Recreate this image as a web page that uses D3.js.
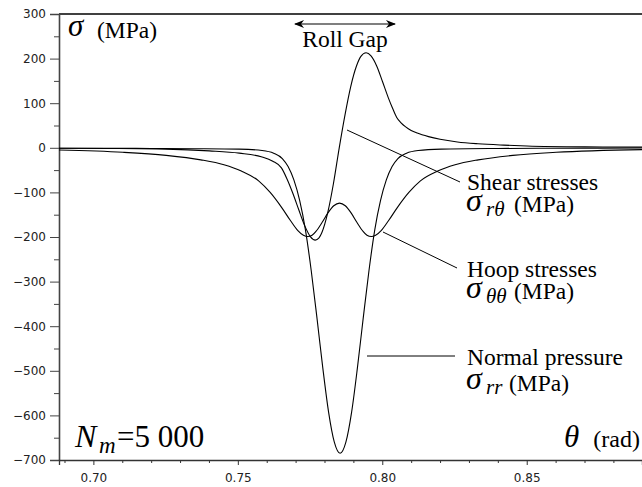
<!DOCTYPE html>
<html><head><meta charset="utf-8">
<script src="https://cdn.jsdelivr.net/npm/d3@7"></script>
<style>
html,body{margin:0;padding:0;background:#fff;}
svg{display:block;}
.tick text{font-family:"DejaVu Sans",sans-serif;font-size:12px;fill:#222;}
.serif{font-family:"Liberation Serif","Times New Roman",serif;fill:#000;}
</style></head>
<body>
<svg id="chart" width="642" height="487"></svg>
<script>
// ---- data ----
const xMajorTicks = [0.70, 0.75, 0.80, 0.85];
const xMinorTicks = [0.69,0.71,0.72,0.73,0.74,0.76,0.77,0.78,0.79,0.81,0.82,0.83,0.84,0.86,0.87,0.88];
const yMajorTicks = [300,200,100,0,-100,-200,-300,-400,-500,-600,-700];
const yMinorTicks = [250,150,50,-50,-150,-250,-350,-450,-550,-650];
const rollGap = [0.7698, 0.8044];

// Normal pressure sigma_rr (MPa)
const thetaNormal = [0.6881,0.70,0.72,0.735,0.7504,0.7584,0.7624,0.7654,0.7674,0.7694,0.7714,0.7734,0.7754,0.7774,0.7794,0.7814,0.7834,0.7854,0.7874,0.7894,0.7914,0.7934,0.7954,0.7974,0.7994,0.8014,0.8034,0.8054,0.8084,0.8124,0.8204,0.84,0.86,0.8899];
const normalPressure = [-1,-1,-1.5,-2,-3,-6,-12,-24,-42,-72,-118,-184,-275,-382,-493,-592,-660,-685,-660,-592,-493,-382,-275,-184,-118,-72,-42,-24,-12,-6,-3,-1.5,-1,-0.5];

// Hoop stresses sigma_theta_theta (MPa)
const thetaHoop = [0.6881,0.7102,0.7252,0.7372,0.7452,0.7512,0.7572,0.7612,0.7652,0.7682,0.7707,0.7727,0.7742,0.7757,0.7772,0.7792,0.7812,0.7832,0.7852,0.7872,0.7892,0.7912,0.7932,0.7947,0.7962,0.7977,0.7997,0.8022,0.8052,0.8092,0.8132,0.8192,0.8252,0.8332,0.8452,0.8602,0.8899];
const hoopStress = [-5,-10,-17,-27,-38,-52,-74,-100,-134,-163,-185,-196,-199,-196,-186,-167,-146,-130,-124,-130,-146,-167,-186,-196,-199,-196,-185,-163,-134,-100,-74,-52,-38,-27,-17,-10,-4];

// Shear stresses sigma_r_theta (MPa)
const thetaShear = [0.6881,0.7051,0.7251,0.7401,0.7505,0.7581,0.7621,0.7651,0.7671,0.7691,0.7711,0.7731,0.7751,0.7768,0.7781,0.7791,0.7811,0.7831,0.7851,0.7871,0.7891,0.7911,0.7926,0.7944,0.7961,0.7981,0.8001,0.8021,0.8036,0.8050,0.8065,0.8081,0.8100,0.8121,0.8160,0.8200,0.8260,0.8331,0.8420,0.8501,0.8701,0.8899];
const shearStress = [-1,-1.5,-3,-7,-12,-20,-30,-45,-71,-103,-139,-174,-199,-207,-202,-190,-146,-80,0,74,138,184,205,213,206,183,148,112,88,68,56,47,39,33,25,19,13,9,6,4,2,1.5];

// ---- layout ----
const svg = d3.select("#chart");
const L = 59, R = 642, T = 14, B = 460;
const x = d3.scaleLinear().domain([0.6881, 0.8899]).range([L, R]);
const y = d3.scaleLinear().domain([-700, 300]).range([B, T]);

// frame: top line
svg.append("line").attr("x1", L).attr("x2", R).attr("y1", T).attr("y2", T)
  .attr("stroke", "#000").attr("stroke-width", 1.3);

// y axis
const yAxis = svg.append("g").attr("transform", `translate(${L},0)`)
  .call(d3.axisLeft(y).tickValues(yMajorTicks).tickSize(9).tickPadding(4).tickFormat(d3.format("d")));
yAxis.select(".domain").attr("stroke", "#444").attr("stroke-width", 1.6);
yAxis.selectAll(".tick line").attr("stroke", "#444");
svg.append("g").attr("transform", `translate(${L},0)`)
  .call(d3.axisLeft(y).tickValues(yMinorTicks).tickSize(5).tickFormat(""))
  .call(g => { g.select(".domain").remove(); g.selectAll(".tick line").attr("stroke", "#444"); });

// x axis
const xAxis = svg.append("g").attr("transform", `translate(0,${B})`)
  .call(d3.axisBottom(x).tickValues(xMajorTicks).tickSize(5).tickPadding(8).tickFormat(d3.format(".2f")));
xAxis.select(".domain").attr("stroke", "#333").attr("stroke-width", 1.3);
xAxis.selectAll(".tick line").attr("stroke", "#333");
svg.append("g").attr("transform", `translate(0,${B})`)
  .call(d3.axisBottom(x).tickValues(xMinorTicks).tickSize(3).tickFormat(""))
  .call(g => { g.select(".domain").remove(); g.selectAll(".tick line").attr("stroke", "#333"); });

// curves
svg.append("clipPath").attr("id", "clip").append("rect")
  .attr("x", L).attr("y", T).attr("width", R - L).attr("height", B - T);
const line = d3.line().x(d => x(d[0])).y(d => y(d[1])).curve(d3.curveMonotoneX);
const series = [
  d3.zip(thetaNormal, normalPressure),
  d3.zip(thetaHoop, hoopStress),
  d3.zip(thetaShear, shearStress)
];
svg.append("g").attr("clip-path", "url(#clip)").selectAll("path").data(series).join("path")
  .attr("d", line).attr("fill", "none").attr("stroke", "#000").attr("stroke-width", 1.1);

// leader lines
const leaders = [[347,130,460,182],[383,232,457,268],[367,356,455,356]];
svg.selectAll("line.leader").data(leaders).join("line").attr("class","leader")
  .attr("x1", d=>d[0]).attr("y1", d=>d[1]).attr("x2", d=>d[2]).attr("y2", d=>d[3])
  .attr("stroke", "#000").attr("stroke-width", 1);

// roll gap arrow
const defs = svg.append("defs");
defs.append("marker").attr("id","ah").attr("viewBox","0 0 10 8").attr("refX",9).attr("refY",4)
  .attr("markerWidth",11).attr("markerHeight",8).attr("markerUnits","userSpaceOnUse").attr("orient","auto-start-reverse")
  .append("path").attr("d","M0,0 L10,4 L0,8 L3,4 Z").attr("fill","#000");
svg.append("line").attr("x1", x(rollGap[0])).attr("x2", x(rollGap[1])).attr("y1", 24).attr("y2", 24)
  .attr("stroke","#000").attr("stroke-width",1.2)
  .attr("marker-start","url(#ah)").attr("marker-end","url(#ah)");

function txt(s, xx, yy, size, italic, anchor) {
  return svg.append("text").attr("class","serif").attr("x",xx).attr("y",yy)
    .attr("font-size",size).attr("font-style", italic ? "italic" : "normal")
    .attr("text-anchor", anchor || "start").text(s);
}
txt("Roll Gap", (x(rollGap[0]) + x(rollGap[1])) / 2, 47, 23.5, false, "middle");

// y label
txt("σ", 68, 36, 31, true);
txt("(MPa)", 97, 38, 23.5, false);

// series labels
txt("Shear stresses", 467, 190, 23.5, false);
txt("σ", 466, 211, 32, true);
txt("rθ", 486, 216, 21, true);
txt("(MPa)", 514, 212, 23.5, false);

txt("Hoop stresses", 467, 277, 23.5, false);
txt("σ", 466, 298, 32, true);
txt("θθ", 486, 303, 21, true);
txt("(MPa)", 514, 299, 23.5, false);

txt("Normal pressure", 467, 365, 23.5, false);
txt("σ", 466, 389, 32, true);
txt("rr", 486, 394, 21, true);
txt("(MPa)", 509, 391, 23.5, false);

// N_m
txt("N", 75, 447, 32, true);
txt("m", 99, 453, 23, true);
txt("=5 000", 117, 447, 31, false);

// theta (rad)
txt("θ", 564, 447, 31, true);
txt("(rad)", 640, 447, 24, false, "end");
</script>
</body></html>
